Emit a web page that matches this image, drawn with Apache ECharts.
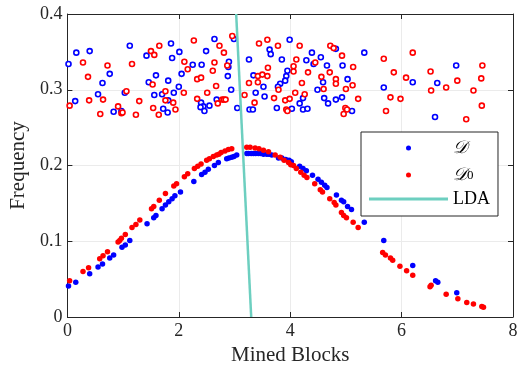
<!DOCTYPE html>
<html>
<head>
<meta charset="utf-8">
<script src="https://cdn.jsdelivr.net/npm/echarts@6/dist/echarts.min.js"></script>
<style>html,body{margin:0;padding:0;background:#fff;}#c{width:522px;height:371px;}</style>
</head>
<body>
<div id="c"></div>
<script>
// Axis ticks
const xTicks = [0, 2, 4, 6, 8];
const yTicks = [0, 0.1, 0.2, 0.3, 0.4];

// Filled points: D (blue)
const dFilled = [[0.02,0.041],[0.15,0.046],[0.40,0.057],[0.55,0.066],[0.63,0.070],[0.76,0.078],[0.83,0.082],[0.98,0.092],[1.04,0.095],[1.12,0.101],[1.43,0.123],[1.55,0.131],[1.59,0.134],[1.70,0.143],[1.76,0.148],[1.82,0.152],[1.88,0.156],[1.93,0.160],[2.03,0.165],[2.27,0.179],[2.41,0.188],[2.47,0.191],[2.53,0.195],[2.64,0.200],[2.71,0.204],[2.86,0.209],[2.90,0.210],[2.95,0.211],[2.99,0.212],[3.04,0.214],[3.22,0.216],[3.25,0.216],[3.30,0.216],[3.34,0.216],[3.38,0.216],[3.43,0.216],[3.47,0.216],[3.52,0.215],[3.58,0.215],[3.62,0.215],[3.67,0.214],[3.79,0.210],[3.85,0.210],[3.92,0.208],[3.98,0.207],[4.02,0.205],[4.17,0.199],[4.23,0.196],[4.29,0.193],[4.40,0.187],[4.50,0.182],[4.56,0.178],[4.62,0.174],[4.66,0.171],[4.83,0.161],[4.92,0.154],[4.96,0.152],[5.03,0.146],[5.10,0.142],[5.33,0.125],[5.68,0.101],[6.20,0.068],[6.61,0.048],[6.65,0.046],[6.99,0.032]];

// Filled points: D0 (red)
const d0Filled = [[0.04,0.048],[0.28,0.060],[0.38,0.065],[0.58,0.077],[0.64,0.081],[0.72,0.086],[0.91,0.099],[0.94,0.101],[0.97,0.104],[1.04,0.109],[1.16,0.118],[1.23,0.122],[1.30,0.128],[1.51,0.143],[1.55,0.146],[1.65,0.154],[1.76,0.163],[1.91,0.173],[1.96,0.176],[2.10,0.185],[2.16,0.189],[2.28,0.196],[2.34,0.199],[2.40,0.202],[2.50,0.207],[2.55,0.209],[2.62,0.212],[2.68,0.214],[2.72,0.215],[2.76,0.217],[2.83,0.219],[2.89,0.221],[2.95,0.222],[3.22,0.224],[3.28,0.224],[3.37,0.223],[3.44,0.222],[3.52,0.220],[3.61,0.218],[3.73,0.214],[3.82,0.211],[3.89,0.207],[3.97,0.204],[4.01,0.201],[4.06,0.200],[4.11,0.196],[4.19,0.191],[4.25,0.187],[4.30,0.184],[4.44,0.176],[4.54,0.168],[4.58,0.165],[4.71,0.156],[4.79,0.151],[4.82,0.148],[4.92,0.138],[4.96,0.134],[5.01,0.131],[5.13,0.125],[5.22,0.118],[5.66,0.085],[5.71,0.082],[5.80,0.078],[5.84,0.075],[5.97,0.067],[6.09,0.061],[6.20,0.055],[6.51,0.040],[6.53,0.042],[6.80,0.030],[7.01,0.024],[7.17,0.019],[7.29,0.017],[7.44,0.014],[7.47,0.013]];

// Open circles: blue
const dOpen = [[0.02,0.334],[0.16,0.349],[0.40,0.351],[0.14,0.285],[0.55,0.294],[0.63,0.309],[0.76,0.321],[0.83,0.271],[0.97,0.272],[1.03,0.296],[1.12,0.358],[1.42,0.345],[1.46,0.310],[1.59,0.319],[1.56,0.293],[1.70,0.294],[1.81,0.312],[1.86,0.361],[1.88,0.342],[1.91,0.296],[2.01,0.350],[2.05,0.321],[2.00,0.304],[1.81,0.286],[1.72,0.275],[1.80,0.270],[2.25,0.333],[2.41,0.333],[2.49,0.351],[2.64,0.367],[2.40,0.283],[2.44,0.278],[2.39,0.277],[2.46,0.272],[2.55,0.279],[2.68,0.287],[2.99,0.367],[2.90,0.337],[2.89,0.330],[2.88,0.318],[2.94,0.300],[3.05,0.276],[3.27,0.274],[3.33,0.274],[3.26,0.340],[3.34,0.319],[3.38,0.296],[3.52,0.304],[3.54,0.291],[3.63,0.353],[3.65,0.347],[3.85,0.340],[3.99,0.366],[3.95,0.325],[3.93,0.318],[3.91,0.312],[3.82,0.308],[3.78,0.304],[3.76,0.276],[4.03,0.275],[4.17,0.282],[4.23,0.289],[4.23,0.274],[4.31,0.275],[4.29,0.339],[4.39,0.349],[4.42,0.334],[4.55,0.343],[4.66,0.332],[4.59,0.310],[4.49,0.300],[4.61,0.289],[4.68,0.282],[4.82,0.287],[4.93,0.290],[4.82,0.354],[4.94,0.332],[5.03,0.314],[5.11,0.272],[5.33,0.349],[5.68,0.303],[6.20,0.310],[6.64,0.309],[6.98,0.332],[6.60,0.264]];

// Open circles: red
const d0Open = [[0.04,0.279],[0.28,0.336],[0.37,0.317],[0.39,0.286],[0.64,0.287],[0.72,0.332],[0.59,0.268],[0.91,0.278],[0.97,0.269],[0.99,0.270],[1.06,0.298],[1.16,0.334],[1.23,0.267],[1.29,0.285],[1.50,0.351],[1.56,0.346],[1.65,0.358],[1.53,0.307],[1.54,0.276],[1.64,0.267],[1.76,0.298],[1.76,0.286],[1.90,0.283],[1.94,0.274],[2.09,0.296],[2.10,0.337],[2.16,0.327],[2.27,0.365],[2.33,0.314],[2.40,0.316],[2.61,0.325],[2.64,0.336],[2.51,0.296],[2.33,0.288],[2.67,0.305],[2.96,0.371],[2.73,0.358],[2.81,0.349],[2.87,0.332],[2.78,0.287],[2.81,0.287],[2.84,0.287],[2.70,0.282],[3.18,0.293],[3.26,0.309],[3.36,0.283],[3.44,0.361],[3.42,0.318],[3.50,0.320],[3.59,0.318],[3.42,0.310],[3.59,0.366],[3.60,0.329],[3.78,0.358],[3.79,0.300],[3.71,0.289],[3.91,0.286],[3.99,0.288],[3.93,0.274],[3.95,0.272],[4.06,0.331],[4.06,0.324],[4.11,0.340],[4.17,0.358],[4.21,0.309],[4.09,0.296],[4.26,0.294],[4.32,0.323],[4.45,0.336],[4.56,0.317],[4.60,0.301],[4.72,0.358],[4.78,0.355],[4.93,0.345],[4.71,0.323],[4.82,0.314],[4.82,0.308],[5.00,0.301],[5.12,0.306],[5.13,0.330],[5.22,0.288],[4.99,0.276],[5.02,0.274],[4.96,0.268],[5.68,0.341],[5.86,0.323],[5.80,0.290],[5.98,0.288],[5.72,0.272],[6.08,0.316],[6.20,0.349],[6.52,0.324],[6.53,0.299],[6.80,0.303],[7.00,0.312],[7.29,0.299],[7.43,0.315],[7.45,0.332],[7.44,0.279],[7.16,0.261]];

// LDA boundary line endpoints
const ldaLine = [[3.03,0.4],[3.30,0]];

const FONT = '"Liberation Serif", "DejaVu Serif", serif';
const AX = '#262626';
const LDA_COLOR = '#6dcfc0';
const chart = echarts.init(document.getElementById('c'), null, {renderer:'canvas'});

const baseAxis = {
  type:'value',
  axisLine:{show:true, onZero:false, lineStyle:{color:AX, width:1}},
  axisTick:{show:true, inside:true, length:5, lineStyle:{color:AX}},
  splitLine:{show:false},
  axisLabel:{show:false}
};

chart.setOption({
  animation:false,
  grid:{left:65, right:9, top:14, bottom:53, containLabel:false},
  xAxis:[
    Object.assign({}, baseAxis, {
      position:'bottom', min:xTicks[0], max:xTicks[xTicks.length-1], interval:2,
      name:'Mined Blocks', nameLocation:'middle', nameGap:28,
      nameTextStyle:{fontFamily:FONT, fontSize:21, color:AX},
      axisLabel:{show:true, margin:5, fontFamily:FONT, fontSize:18, color:AX},
      splitLine:{show:true, lineStyle:{color:'#ebebeb', width:1}}
    }),
    Object.assign({}, baseAxis, {position:'top', min:xTicks[0], max:xTicks[xTicks.length-1], interval:2})
  ],
  yAxis:[
    Object.assign({}, baseAxis, {
      position:'left', min:yTicks[0], max:yTicks[yTicks.length-1], interval:0.1,
      name:'Frequency', nameLocation:'middle', nameGap:30,
      nameTextStyle:{fontFamily:FONT, fontSize:21, color:AX},
      axisLabel:{show:true, margin:5, fontFamily:FONT, fontSize:18, color:AX},
      splitLine:{show:true, lineStyle:{color:'#ebebeb', width:1}}
    }),
    Object.assign({}, baseAxis, {position:'right', min:yTicks[0], max:yTicks[yTicks.length-1], interval:0.1})
  ],
  legend:{
    orient:'vertical', left:361, top:132,
    data:['𝒟','𝒟0',{name:'LDA', icon:'path://M0,0L79,0L79,3L0,3Z'}],
    itemWidth:79, itemHeight:5, itemGap:6,
    padding:[7,8,8,8],
    backgroundColor:'#fff', borderColor:AX, borderWidth:1, borderRadius:0,
    selectedMode:false,
    formatter: function(n){ if(n==='𝒟0') return '{d|𝒟}{s|0}'; if(n==='𝒟') return '{d|𝒟}'; return n; },
    textStyle:{fontFamily:FONT, fontSize:18, color:'#000', lineHeight:14,
      rich:{
        d:{fontFamily:FONT, fontSize:18, fontStyle:'italic', lineHeight:14, color:'#000'},
        s:{fontFamily:FONT, fontSize:13, lineHeight:14, color:'#000', verticalAlign:'bottom', padding:[6,0,0,0]}
      }}
  },
  series:[
    {name:'dOpen', type:'scatter', data:dOpen, symbol:'circle', symbolSize:5, silent:true,
     itemStyle:{color:'#fff', borderColor:'#0000ff', borderWidth:1.6, opacity:1}},
    {name:'d0Open', type:'scatter', data:d0Open, symbol:'circle', symbolSize:5, silent:true,
     itemStyle:{color:'#fff', borderColor:'#ff0000', borderWidth:1.6, opacity:1}},
    {name:'𝒟', type:'scatter', data:dFilled, symbol:'circle', symbolSize:5.5, silent:true,
     itemStyle:{color:'#0000ff', opacity:1}},
    {name:'𝒟0', type:'scatter', data:d0Filled, symbol:'circle', symbolSize:5.5, silent:true,
     itemStyle:{color:'#ff0000', opacity:1}},
    {name:'LDA', type:'line', data:ldaLine, symbol:'none', silent:true,
     lineStyle:{color:LDA_COLOR, width:2.5}, itemStyle:{color:LDA_COLOR}}
  ]
});
</script>
</body>
</html>
